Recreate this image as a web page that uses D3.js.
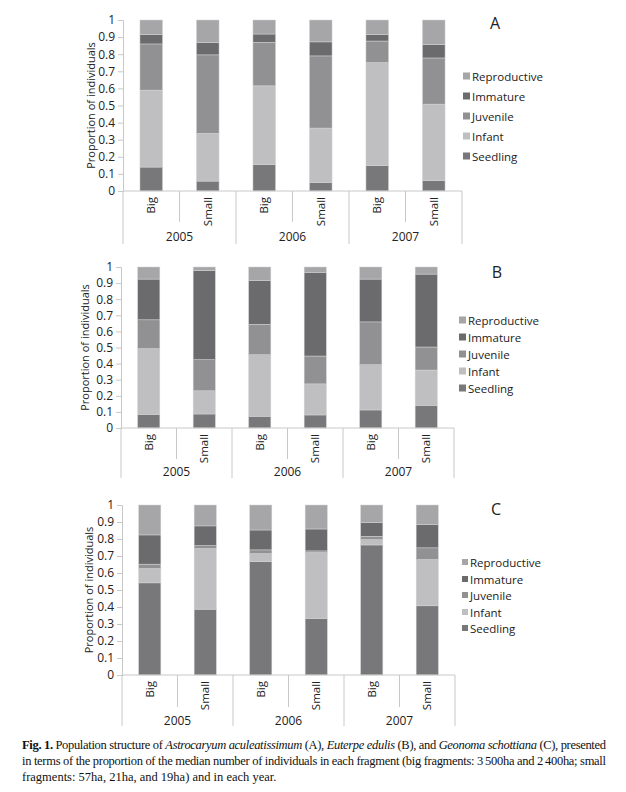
<!DOCTYPE html>
<html><head><meta charset="utf-8">
<script src="https://cdn.jsdelivr.net/npm/d3@7"></script>
<style>
body{margin:0;background:#fff;}
svg{display:block;}
</style></head>
<body>
<svg id="chart" width="626" height="792"></svg>
<script>
const years = ["2005","2006","2007"];
const sizes = ["Big","Small"];
const stages = ["Seedling","Infant","Juvenile","Immature","Reproductive"];
const yTicks = [0,0.1,0.2,0.3,0.4,0.5,0.6,0.7,0.8,0.9,1];
const stageColors = ["#78787a","#bfbfc1","#919193","#6b6b6d","#a6a6a8"];

// Panel A: Astrocaryum aculeatissimum (order: Big05, Small05, Big06, Small06, Big07, Small07)
const A_seedling     = [0.140, 0.058, 0.154, 0.050, 0.148, 0.060];
const A_infant       = [0.450, 0.279, 0.461, 0.318, 0.603, 0.448];
const A_juvenile     = [0.270, 0.459, 0.255, 0.422, 0.126, 0.270];
const A_immature     = [0.054, 0.072, 0.048, 0.082, 0.037, 0.078];
const A_reproductive = [0.086, 0.132, 0.082, 0.128, 0.086, 0.144];
// Panel B: Euterpe edulis
const B_seedling     = [0.085, 0.087, 0.073, 0.081, 0.112, 0.141];
const B_infant       = [0.408, 0.144, 0.382, 0.193, 0.281, 0.219];
const B_juvenile     = [0.179, 0.193, 0.189, 0.173, 0.266, 0.143];
const B_immature     = [0.253, 0.555, 0.273, 0.520, 0.266, 0.453];
const B_reproductive = [0.075, 0.021, 0.083, 0.033, 0.075, 0.044];
// Panel C: Geonoma schottiana
const C_seedling     = [0.542, 0.387, 0.667, 0.333, 0.765, 0.407];
const C_infant       = [0.084, 0.357, 0.047, 0.387, 0.031, 0.272];
const C_juvenile     = [0.026, 0.017, 0.022, 0.010, 0.020, 0.069];
const C_immature     = [0.172, 0.116, 0.117, 0.129, 0.080, 0.138];
const C_reproductive = [0.176, 0.123, 0.147, 0.141, 0.104, 0.114];

const panels = [
  {letter:"A", series:[A_seedling,A_infant,A_juvenile,A_immature,A_reproductive],
   x0:123, x1:462, top:20, base:191, shortEnd:222, longEnd:244, yearY:241, titleX:90,
   legX:463, legTextX:472, legY:[76,96,116,136,156], sq:7, letterX:495, letterY:29},
  {letter:"B", series:[B_seedling,B_infant,B_juvenile,B_immature,B_reproductive],
   x0:121, x1:454, top:267, base:428, shortEnd:459, longEnd:478, yearY:476, titleX:84,
   legX:459, legTextX:468, legY:[320,337,354,371,388], sq:7, letterX:497, letterY:278},
  {letter:"C", series:[C_seedling,C_infant,C_juvenile,C_immature,C_reproductive],
   x0:122, x1:455, top:505, base:675, shortEnd:707, longEnd:726, yearY:725, titleX:88,
   legX:462, legTextX:470, legY:[562,579,595,612,628], sq:6, letterX:496, letterY:515}
];

const svg = d3.select("#chart");
const font = "'Open Sans', 'DejaVu Sans', sans-serif";
const axisColor = "#c8c8c8";

const cats = [];
years.forEach(y => sizes.forEach(s => cats.push(y + "|" + s)));

panels.forEach(p => {
  const g = svg.append("g");
  const x = d3.scaleBand().domain(cats).range([p.x0, p.x1]).paddingInner(0).paddingOuter(0);
  const y = d3.scaleLinear().domain([0,1]).range([p.base, p.top]);
  const bw = x.bandwidth() * 0.4;

  const rows = cats.map((c,i) => {
    const o = {cat:c};
    stages.forEach((s,k) => o[s] = p.series[k][i]);
    return o;
  });
  const stacked = d3.stack().keys(stages)(rows);

  // y axis
  const yAxis = d3.axisLeft(y).tickValues(yTicks).tickSize(5).tickPadding(3)
    .tickFormat(d => d === 0 ? "0" : d === 1 ? "1" : d3.format(".1f")(d));
  const ya = g.append("g").attr("transform", `translate(${p.x0},0)`).call(yAxis);
  ya.select(".domain").attr("stroke", axisColor);
  ya.selectAll(".tick line").attr("stroke", axisColor);
  ya.selectAll("text").attr("font-family", font).attr("font-size", 12).attr("fill","#222");

  // bars
  stacked.forEach((layer, k) => {
    g.append("g").selectAll("rect").data(layer).join("rect")
      .attr("x", d => x(d.data.cat) + (x.bandwidth()-bw)/2)
      .attr("width", bw)
      .attr("y", d => y(d[1]))
      .attr("height", d => y(d[0]) - y(d[1]))
      .attr("fill", stageColors[k])
      .attr("stroke", "#d4d4d6").attr("stroke-width", 0.5);
  });

  // baseline
  g.append("line").attr("x1", p.x0).attr("x2", p.x1).attr("y1", p.base).attr("y2", p.base)
    .attr("stroke", axisColor);

  // separators
  cats.forEach((c,i) => {
    const xl = x(c);
    const isYear = i % 2 === 0;
    g.append("line").attr("x1", xl).attr("x2", xl).attr("y1", p.base)
      .attr("y2", isYear ? p.longEnd : p.shortEnd).attr("stroke", axisColor);
  });
  g.append("line").attr("x1", p.x1).attr("x2", p.x1).attr("y1", p.base).attr("y2", p.longEnd)
    .attr("stroke", axisColor);

  // category labels (rotated)
  cats.forEach(c => {
    const cx = x(c) + x.bandwidth()/2;
    g.append("text").attr("transform", `translate(${cx+4},${p.base+6}) rotate(-90)`)
      .attr("text-anchor","end").attr("font-family", font).attr("font-size", 11.5).attr("fill","#222")
      .text(c.split("|")[1]);
  });
  // year labels
  years.forEach((yr,i) => {
    const cx = x(yr + "|Big") + x.bandwidth();
    g.append("text").attr("x", cx).attr("y", p.yearY).attr("text-anchor","middle")
      .attr("font-family", font).attr("font-size", 12).attr("fill","#222").text(yr);
  });

  // y title
  g.append("text").attr("transform", `translate(${p.titleX},${(p.top+p.base)/2}) rotate(-90)`)
    .attr("text-anchor","middle").attr("dominant-baseline","central")
    .attr("font-family", font).attr("font-size", 11).attr("fill","#222")
    .text("Proportion of individuals");

  // legend
  const legOrder = stages.slice().reverse();
  legOrder.forEach((s,j) => {
    const k = stages.indexOf(s);
    g.append("rect").attr("x", p.legX).attr("y", p.legY[j]-p.sq/2).attr("width", p.sq).attr("height", p.sq)
      .attr("fill", stageColors[k]);
    g.append("text").attr("x", p.legTextX).attr("y", p.legY[j]).attr("dominant-baseline","central")
      .attr("font-family", font).attr("font-size", 11.5).attr("fill","#222").text(s);
  });

  // panel letter
  g.append("text").attr("x", p.letterX).attr("y", p.letterY).attr("text-anchor","middle")
    .attr("font-family", font).attr("font-size", 16).attr("fill","#222").text(p.letter);
});

// caption
const cap = svg.append("g").attr("font-family","'Liberation Serif','Times New Roman',serif")
  .attr("font-size", 12.5).attr("fill","#111");
const l1 = cap.append("text").attr("x", 22).attr("y", 749).attr("textLength", 584).attr("lengthAdjust","spacing");
l1.append("tspan").attr("font-weight","bold").text("Fig. 1.");
l1.append("tspan").text(" Population structure of ");
l1.append("tspan").attr("font-style","italic").text("Astrocaryum aculeatissimum");
l1.append("tspan").text(" (A), ");
l1.append("tspan").attr("font-style","italic").text("Euterpe edulis");
l1.append("tspan").text(" (B), and ");
l1.append("tspan").attr("font-style","italic").text("Geonoma schottiana");
l1.append("tspan").text(" (C), presented");
cap.append("text").attr("x", 22).attr("y", 765).attr("textLength", 584).attr("lengthAdjust","spacing")
  .text("in terms of the proportion of the median number of individuals in each fragment (big fragments: 3\u2009500ha and 2\u2009400ha; small");
cap.append("text").attr("x", 22).attr("y", 781)
  .text("fragments: 57ha, 21ha, and 19ha) and in each year.");
</script>
</body></html>
